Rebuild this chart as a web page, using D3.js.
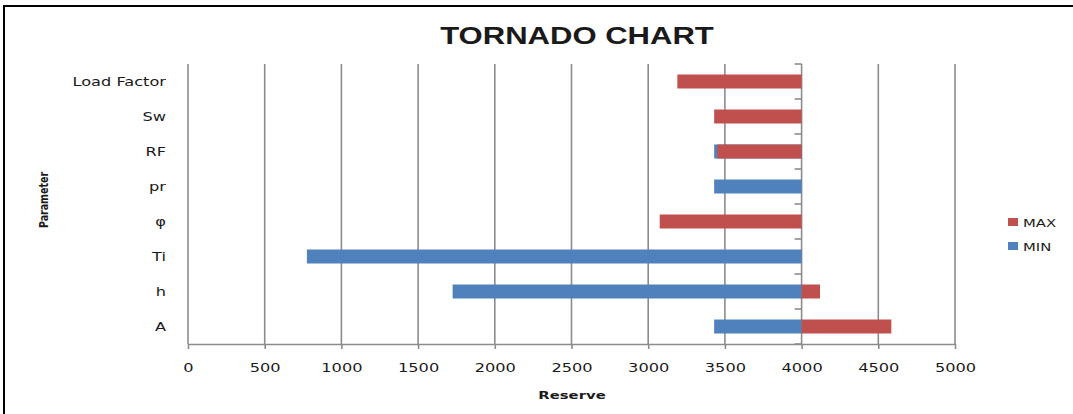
<!DOCTYPE html>
<html>
<head>
<meta charset="utf-8">
<script src="https://cdn.jsdelivr.net/npm/d3@7"></script>
<style>
  body { margin: 0; background: #fff; }
  text { font-family: "DejaVu Sans", Verdana, sans-serif; fill: #1a1a1a; }
</style>
</head>
<body>
<svg id="chart" width="1073" height="414"></svg>
<script>
// data, bars grow out of the base value
const params = ["Load Factor", "Sw", "RF", "pr", "φ", "Ti", "h", "A"];
const minVals = [4000, 4000, 3430, 3430, 4000, 775, 1725, 3430];
const maxVals = [3190, 3430, 3450, 4000, 3075, 4000, 4120, 4585];
const xTicks = [0, 500, 1000, 1500, 2000, 2500, 3000, 3500, 4000, 4500, 5000];
const baseValue = 4000;

const red = "#c0504d", blue = "#4f81bd", grid = "#8c8c8c";
const sx = 1.35; // the source image is stretched sideways

const svg = d3.select("#chart");

// outer frame
svg.append("rect")
    .attr("x", 4).attr("y", 6)
    .attr("width", 1200).attr("height", 600)
    .attr("fill", "none")
    .attr("stroke", "#000")
    .attr("stroke-width", 2);

const x = d3.scaleLinear().domain([0, 5000]).range([188, 955]);
const y = d3.scaleBand().domain(params).range([64, 344])
    .paddingInner(0.6).paddingOuter(0.3);

// vertical gridlines
svg.append("g").selectAll("line")
    .data(xTicks)
    .join("line")
    .attr("x1", d => x(d)).attr("x2", d => x(d))
    .attr("y1", 64).attr("y2", 344)
    .attr("stroke", grid)
    .attr("stroke-width", 1.6);

// category axis crosses at 4000, tick marks at band edges
const step = y.step();
const edges = d3.range(params.length + 1).map(i => 64 + i * step);
svg.append("g").selectAll("line")
    .data(edges)
    .join("line")
    .attr("x1", x(baseValue) - 7).attr("x2", x(baseValue))
    .attr("y1", d => d).attr("y2", d => d)
    .attr("stroke", grid)
    .attr("stroke-width", 1.6);

// bars: MIN first, MAX drawn on top
function drawSeries(vals, color) {
    svg.append("g").selectAll("rect")
        .data(params)
        .join("rect")
        .attr("x", (d, i) => Math.min(x(vals[i]), x(baseValue)))
        .attr("width", (d, i) => Math.abs(x(vals[i]) - x(baseValue)))
        .attr("y", d => y(d))
        .attr("height", y.bandwidth())
        .attr("fill", color);
}
drawSeries(minVals, blue);
drawSeries(maxVals, red);

// x axis
const xAxis = svg.append("g")
    .attr("transform", "translate(0,344)")
    .call(d3.axisBottom(x).tickValues(xTicks).tickFormat(d3.format("d"))
        .tickSize(5).tickSizeOuter(0));
xAxis.select(".domain").attr("stroke", grid).attr("stroke-width", 1.6);
xAxis.selectAll(".tick line").attr("stroke", grid).attr("stroke-width", 1.6);
xAxis.selectAll(".tick text")
    .attr("y", 28).attr("dy", null)
    .attr("transform", `scale(${sx},1)`)
    .style("font-family", "'DejaVu Sans', sans-serif")
    .style("font-size", "12px")
    .attr("fill", "#1a1a1a");

// y axis labels, kept at the far left
const yAxis = svg.append("g")
    .attr("transform", "translate(166,0)")
    .call(d3.axisLeft(y).tickSize(0).tickPadding(0));
yAxis.select(".domain").remove();
yAxis.selectAll(".tick text")
    .attr("dy", "0.36em")
    .attr("transform", `scale(${sx},1)`)
    .style("font-family", "'DejaVu Sans', sans-serif")
    .style("font-size", "12px")
    .attr("fill", "#1a1a1a");

// title
svg.append("text")
    .attr("transform", `translate(577,44) scale(${sx},1)`)
    .attr("text-anchor", "middle")
    .style("font-family", "'Liberation Sans', Arial, sans-serif")
    .style("font-weight", "bold")
    .style("font-size", "23px")
    .attr("fill", "#000")
    .text("TORNADO CHART");

// axis titles
svg.append("text")
    .attr("transform", `translate(572,399) scale(${sx},1)`)
    .attr("text-anchor", "middle")
    .style("font-weight", "bold")
    .style("font-size", "11px")
    .text("Reserve");

svg.append("text")
    .attr("transform", "translate(48,200) rotate(-90) scale(1,1.3)")
    .attr("text-anchor", "middle")
    .style("font-weight", "bold")
    .style("font-size", "9.5px")
    .text("Parameter");

// legend
const legend = [{ name: "MAX", color: red }, { name: "MIN", color: blue }];
const lg = svg.append("g").selectAll("g")
    .data(legend)
    .join("g")
    .attr("transform", (d, i) => `translate(1008,${218 + i * 24})`);
lg.append("rect")
    .attr("width", 10).attr("height", 8)
    .attr("fill", d => d.color);
lg.append("text")
    .attr("transform", `translate(15,8.5) scale(${sx},1)`)
    .style("font-size", "11px")
    .text(d => d.name);
</script>
</body>
</html>
